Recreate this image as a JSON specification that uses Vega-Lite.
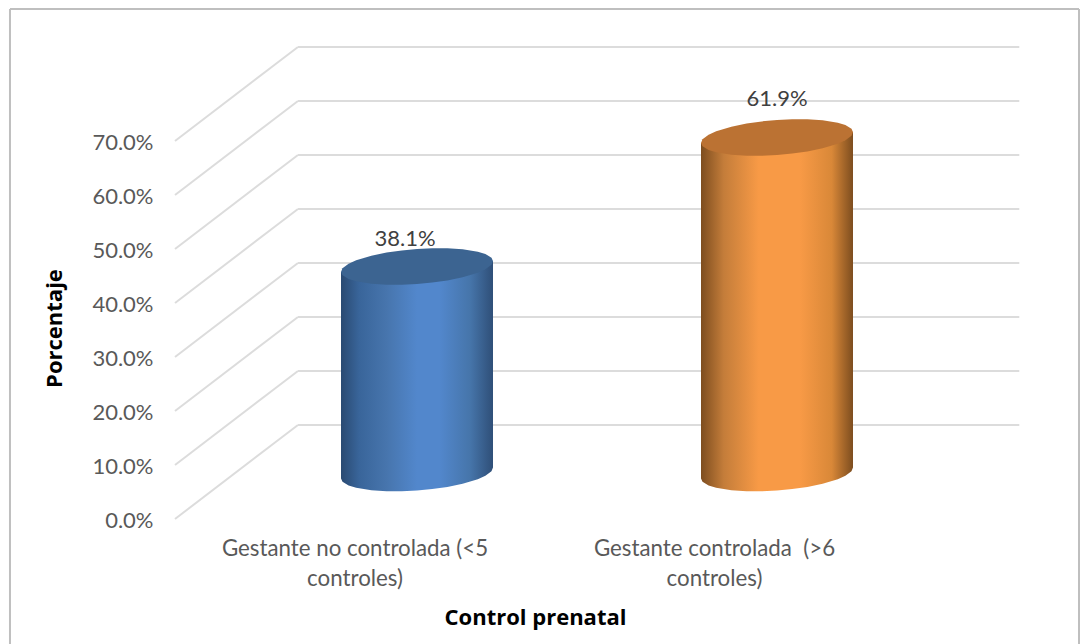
{
"$schema":"https://vega.github.io/schema/vega-lite/v6.json",
"width":1084,"height":644,"autosize":"none","padding":0,"background":"#ffffff",
"config":{"view":{"stroke":null},"font":"Lato"},
"datasets":{
"grid":[
{"x1":0.3278,"x2":0.6694,"y1":0,"y2":17.41},{"x1":0.3278,"x2":0.6694,"y1":10,"y2":27.41},{"x1":0.3278,"x2":0.6694,"y1":20,"y2":37.41},{"x1":0.3278,"x2":0.6694,"y1":30,"y2":47.41},{"x1":0.3278,"x2":0.6694,"y1":40,"y2":57.41},{"x1":0.3278,"x2":0.6694,"y1":50,"y2":67.41},{"x1":0.3278,"x2":0.6694,"y1":60,"y2":77.41},{"x1":0.3278,"x2":0.6694,"y1":70,"y2":87.41},
{"x1":0.6694,"x2":2.673,"y1":17.41,"y2":17.41},{"x1":0.6694,"x2":2.673,"y1":27.41,"y2":27.41},{"x1":0.6694,"x2":2.673,"y1":37.41,"y2":37.41},{"x1":0.6694,"x2":2.673,"y1":47.41,"y2":47.41},{"x1":0.6694,"x2":2.673,"y1":57.41,"y2":57.41},{"x1":0.6694,"x2":2.673,"y1":67.41,"y2":67.41},{"x1":0.6694,"x2":2.673,"y1":77.41,"y2":77.41},{"x1":0.6694,"x2":2.673,"y1":87.41,"y2":87.41}
],
"frame":[
{"x1":-0.1306,"x2":2.8389,"y1":94.44,"y2":94.44},{"x1":-0.1306,"x2":-0.1306,"y1":94.44,"y2":-23.15},{"x1":2.8389,"x2":2.8389,"y1":94.44,"y2":-23.15}
],
"cyl":[
{"s":"a","x":0.7889,"base":45.76,"hi":45.76,"lo":45.76,"bot":7.52},
{"s":"a","x":0.7931,"base":45.78,"hi":46.43,"lo":45.13,"bot":6.89},
{"s":"a","x":0.81,"base":45.86,"hi":47.28,"lo":44.44,"bot":6.2},
{"s":"a","x":0.8311,"base":45.96,"hi":47.91,"lo":44.01,"bot":5.77},
{"s":"a","x":0.8733,"base":46.16,"hi":48.76,"lo":43.56,"bot":5.32},
{"s":"a","x":0.9156,"base":46.36,"hi":49.34,"lo":43.38,"bot":5.14},
{"s":"a","x":0.9578,"base":46.56,"hi":49.74,"lo":43.38,"bot":5.14},
{"s":"a","x":1,"base":46.76,"hi":50.01,"lo":43.51,"bot":5.27},
{"s":"a","x":1.0422,"base":46.96,"hi":50.14,"lo":43.78,"bot":5.54},
{"s":"a","x":1.0844,"base":47.16,"hi":50.14,"lo":44.18,"bot":5.94},
{"s":"a","x":1.1267,"base":47.36,"hi":49.96,"lo":44.76,"bot":6.52},
{"s":"a","x":1.1689,"base":47.56,"hi":49.51,"lo":45.61,"bot":7.37},
{"s":"a","x":1.19,"base":47.66,"hi":49.08,"lo":46.24,"bot":8.0},
{"s":"a","x":1.2069,"base":47.74,"hi":48.39,"lo":47.09,"bot":8.85},
{"s":"a","x":1.2111,"base":47.76,"hi":47.76,"lo":47.76,"bot":9.52},
{"s":"b","x":1.7889,"base":69.65,"hi":69.65,"lo":69.65,"bot":7.52},
{"s":"b","x":1.7931,"base":69.67,"hi":70.32,"lo":69.02,"bot":6.89},
{"s":"b","x":1.81,"base":69.75,"hi":71.17,"lo":68.33,"bot":6.2},
{"s":"b","x":1.8311,"base":69.85,"hi":71.8,"lo":67.9,"bot":5.77},
{"s":"b","x":1.8733,"base":70.05,"hi":72.65,"lo":67.45,"bot":5.32},
{"s":"b","x":1.9156,"base":70.25,"hi":73.23,"lo":67.27,"bot":5.14},
{"s":"b","x":1.9578,"base":70.45,"hi":73.63,"lo":67.27,"bot":5.14},
{"s":"b","x":2,"base":70.65,"hi":73.9,"lo":67.4,"bot":5.27},
{"s":"b","x":2.0422,"base":70.85,"hi":74.03,"lo":67.67,"bot":5.54},
{"s":"b","x":2.0844,"base":71.05,"hi":74.03,"lo":68.07,"bot":5.94},
{"s":"b","x":2.1267,"base":71.25,"hi":73.85,"lo":68.65,"bot":6.52},
{"s":"b","x":2.1689,"base":71.45,"hi":73.4,"lo":69.5,"bot":7.37},
{"s":"b","x":2.19,"base":71.55,"hi":72.97,"lo":70.13,"bot":8.0},
{"s":"b","x":2.2069,"base":71.63,"hi":72.28,"lo":70.98,"bot":8.85},
{"s":"b","x":2.2111,"base":71.65,"hi":71.65,"lo":71.65,"bot":9.52}
],
"values":[
{"categoria":"Gestante no controlada (<5\ncontroles)","cx":0.8278,"cy":-5.55,"etiqueta":"38.1%","lx":0.9667,"ly":51.9},
{"categoria":"Gestante controlada \u00a0(>6\ncontroles)","cx":1.8264,"cy":-5.55,"etiqueta":"61.9%","lx":2.0,"ly":77.8}
]
},
"layer":[
{"data":{"name":"frame"},"mark":{"type":"rule","color":"#bfbfbf","strokeWidth":2},
"encoding":{
"x":{"field":"x1","type":"quantitative","scale":{"domain":[-0.15833,2.85278],"nice":false,"zero":false},"axis":{"title":"Control prenatal","labels":false,"ticks":false,"domain":false,"grid":false,"titleFont":"Open Sans","titleFontSize":22,"titleFontWeight":"bold","titleColor":"#000000","titleX":535,"titleY":-27,"titleBaseline":"middle","titleAlign":"center"}},
"x2":{"field":"x2"},
"y":{"field":"y1","type":"quantitative","scale":{"domain":[-23.15,96.11],"nice":false,"zero":false},"axis":{"title":"Porcentaje","values":[0,10,20,30,40,50,60,70],"labelExpr":"format(datum.value,'.1f')+'%'","labelFontSize":22,"labelColor":"#595959","labelPadding":0,"labelOffset":1.5,"offset":-153,"ticks":false,"domain":false,"grid":false,"titleFont":"Open Sans","titleFontSize":22,"titleFontWeight":"bold","titleColor":"#000000","titleX":-99,"titleY":328,"titleAngle":270,"titleAlign":"center","titleBaseline":"middle"}},
"y2":{"field":"y2"}}},
{"data":{"name":"grid"},"mark":{"type":"rule","color":"#dcdcdc","strokeWidth":2},
"encoding":{"x":{"field":"x1","type":"quantitative"},"x2":{"field":"x2"},"y":{"field":"y1","type":"quantitative"},"y2":{"field":"y2"}}},
{"data":{"name":"cyl"},"transform":[{"filter":"datum.s==='a'"}],
"mark":{"type":"area","color":{"gradient":"linear","x1":0,"x2":1,"y1":0,"y2":0,"stops":[{"offset":0,"color":"#2a4a72"},{"offset":0.12,"color":"#39659a"},{"offset":0.3,"color":"#4775ad"},{"offset":0.5,"color":"#5287cc"},{"offset":0.65,"color":"#5287cc"},{"offset":0.85,"color":"#4675aa"},{"offset":1,"color":"#2f4f78"}]}},
"encoding":{"x":{"field":"x","type":"quantitative"},"y":{"field":"base","type":"quantitative"},"y2":{"field":"bot"}}},
{"data":{"name":"cyl"},"transform":[{"filter":"datum.s==='a'"}],
"mark":{"type":"area","color":"#3c6491"},
"encoding":{"x":{"field":"x","type":"quantitative"},"y":{"field":"hi","type":"quantitative"},"y2":{"field":"lo"}}},
{"data":{"name":"cyl"},"transform":[{"filter":"datum.s==='b'"}],
"mark":{"type":"area","color":{"gradient":"linear","x1":0,"x2":1,"y1":0,"y2":0,"stops":[{"offset":0,"color":"#7d4d1f"},{"offset":0.15,"color":"#c47d3a"},{"offset":0.38,"color":"#f89a46"},{"offset":0.65,"color":"#f89a46"},{"offset":0.86,"color":"#d98838"},{"offset":1,"color":"#7d4d1f"}]}},
"encoding":{"x":{"field":"x","type":"quantitative"},"y":{"field":"base","type":"quantitative"},"y2":{"field":"bot"}}},
{"data":{"name":"cyl"},"transform":[{"filter":"datum.s==='b'"}],
"mark":{"type":"area","color":"#bb7233"},
"encoding":{"x":{"field":"x","type":"quantitative"},"y":{"field":"hi","type":"quantitative"},"y2":{"field":"lo"}}},
{"data":{"name":"values"},"mark":{"type":"text","fontSize":22,"color":"#404040","align":"center","baseline":"middle"},
"encoding":{"x":{"field":"lx","type":"quantitative"},"y":{"field":"ly","type":"quantitative"},"text":{"field":"etiqueta"}}},
{"data":{"name":"values"},"mark":{"type":"text","fontSize":22.3,"color":"#595959","align":"center","baseline":"middle","lineBreak":"\n","lineHeight":30},
"encoding":{"x":{"field":"cx","type":"quantitative"},"y":{"field":"cy","type":"quantitative"},"text":{"field":"categoria"}}}
]
}
